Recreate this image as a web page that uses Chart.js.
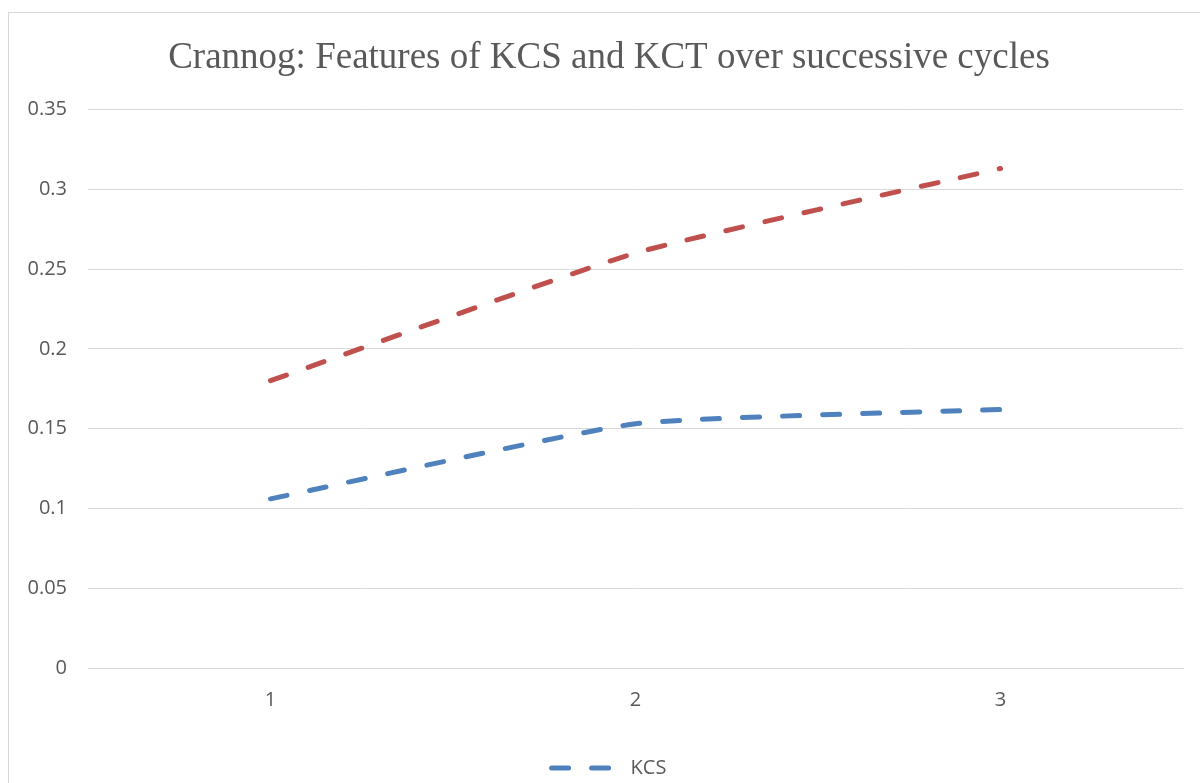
<!DOCTYPE html>
<html>
<head>
<meta charset="utf-8">
<script src="https://cdn.jsdelivr.net/npm/chart.js@4.4.1/dist/chart.umd.min.js"></script>
<style>
  html, body { margin: 0; padding: 0; background: #fff; overflow: hidden; }
  #frame {
    position: absolute; left: 8px; top: 12px;
    width: 1230px; height: 820px;
    border: 1px solid #d9d9d9;
  }
  #wrap { position: absolute; left: 0; top: 0; width: 1226px; height: 775px; }
</style>
</head>
<body>
<div id="frame"><div id="wrap"><canvas id="myChart"></canvas></div></div>
<script>
// data
const cycles = ['1', '2', '3'];
const kcsValues = [0.106, 0.153, 0.162];
const kctValues = [0.180, 0.260, 0.313];
const yTicks = [0, 0.05, 0.1, 0.15, 0.2, 0.25, 0.3, 0.35];

const textGrey = '#595959';
const gridGrey = '#d9d9d9';
const sans = '"Open Sans", "Liberation Sans", sans-serif';
const dash = [17, 23];

// widen the y label clip area so the labels can hang left of the axis box
const labelRoom = {
  id: 'labelRoom',
  afterLayout(chart) {
    chart.scales.y.left -= 20;
  }
};

const ctx = document.getElementById('myChart').getContext('2d');
const myChart = new Chart(ctx, {
  type: 'line',
  data: {
    labels: cycles,
    datasets: [{
      label: 'KCS',
      data: kcsValues,
      borderColor: '#4f81bd',
      backgroundColor: '#4f81bd',
      borderWidth: 5,
      borderDash: dash,
      borderCapStyle: 'round',
      pointRadius: 0,
      tension: 0.15
    }, {
      label: 'KCT',
      data: kctValues,
      borderColor: '#c0504d',
      backgroundColor: '#c0504d',
      borderWidth: 5,
      borderDash: dash,
      borderCapStyle: 'round',
      pointRadius: 0,
      tension: 0.15
    }]
  },
  options: {
    responsive: true,
    maintainAspectRatio: false,
    animation: false,
    layout: { padding: { left: 26, right: 52, top: 0, bottom: 0 } },
    plugins: {
      title: {
        display: true,
        text: 'Crannog: Features of KCS and KCT over successive cycles',
        color: textGrey,
        font: { family: '"Liberation Serif", "DejaVu Serif", serif', size: 37, weight: 'normal' },
        padding: { top: 23, bottom: 29 }
      },
      legend: {
        position: 'bottom',
        labels: {
          // only KCS appears in the visible legend
          filter: (item) => item.text === 'KCS',
          usePointStyle: true,
          pointStyle: 'line',
          pointStyleWidth: 69,
          color: textGrey,
          font: { family: sans, size: 20 },
          padding: 13,
          generateLabels: (chart) => {
            const items = Chart.defaults.plugins.legend.labels.generateLabels(chart);
            items.forEach(item => {
              const ds = chart.data.datasets[item.datasetIndex];
              item.lineDash = ds.borderDash;
              item.lineCap = 'round';
              item.lineWidth = 5;
              item.strokeStyle = ds.borderColor;
            });
            return items;
          }
        }
      },
      tooltip: { enabled: false }
    },
    scales: {
      x: {
        offset: true,
        grid: { display: false },
        border: { display: true, color: gridGrey, width: 1 },
        afterFit: (axis) => { axis.height += 21; },
        ticks: {
          color: textGrey,
          padding: 12,
          font: { family: sans, size: 20 }
        }
      },
      y: {
        min: 0,
        max: 0.35,
        afterBuildTicks: (axis) => { axis.ticks = yTicks.map(v => ({ value: v })); },
        afterFit: (axis) => { axis.width = 53; },
        grid: { color: gridGrey, lineWidth: 1, drawTicks: false },
        border: { display: false },
        ticks: {
          color: textGrey,
          padding: 21,
          callback: (v) => String(Math.round(v * 100) / 100),
          font: { family: sans, size: 20 }
        }
      }
    }
  },
  plugins: [labelRoom]
});
</script>
</body>
</html>
